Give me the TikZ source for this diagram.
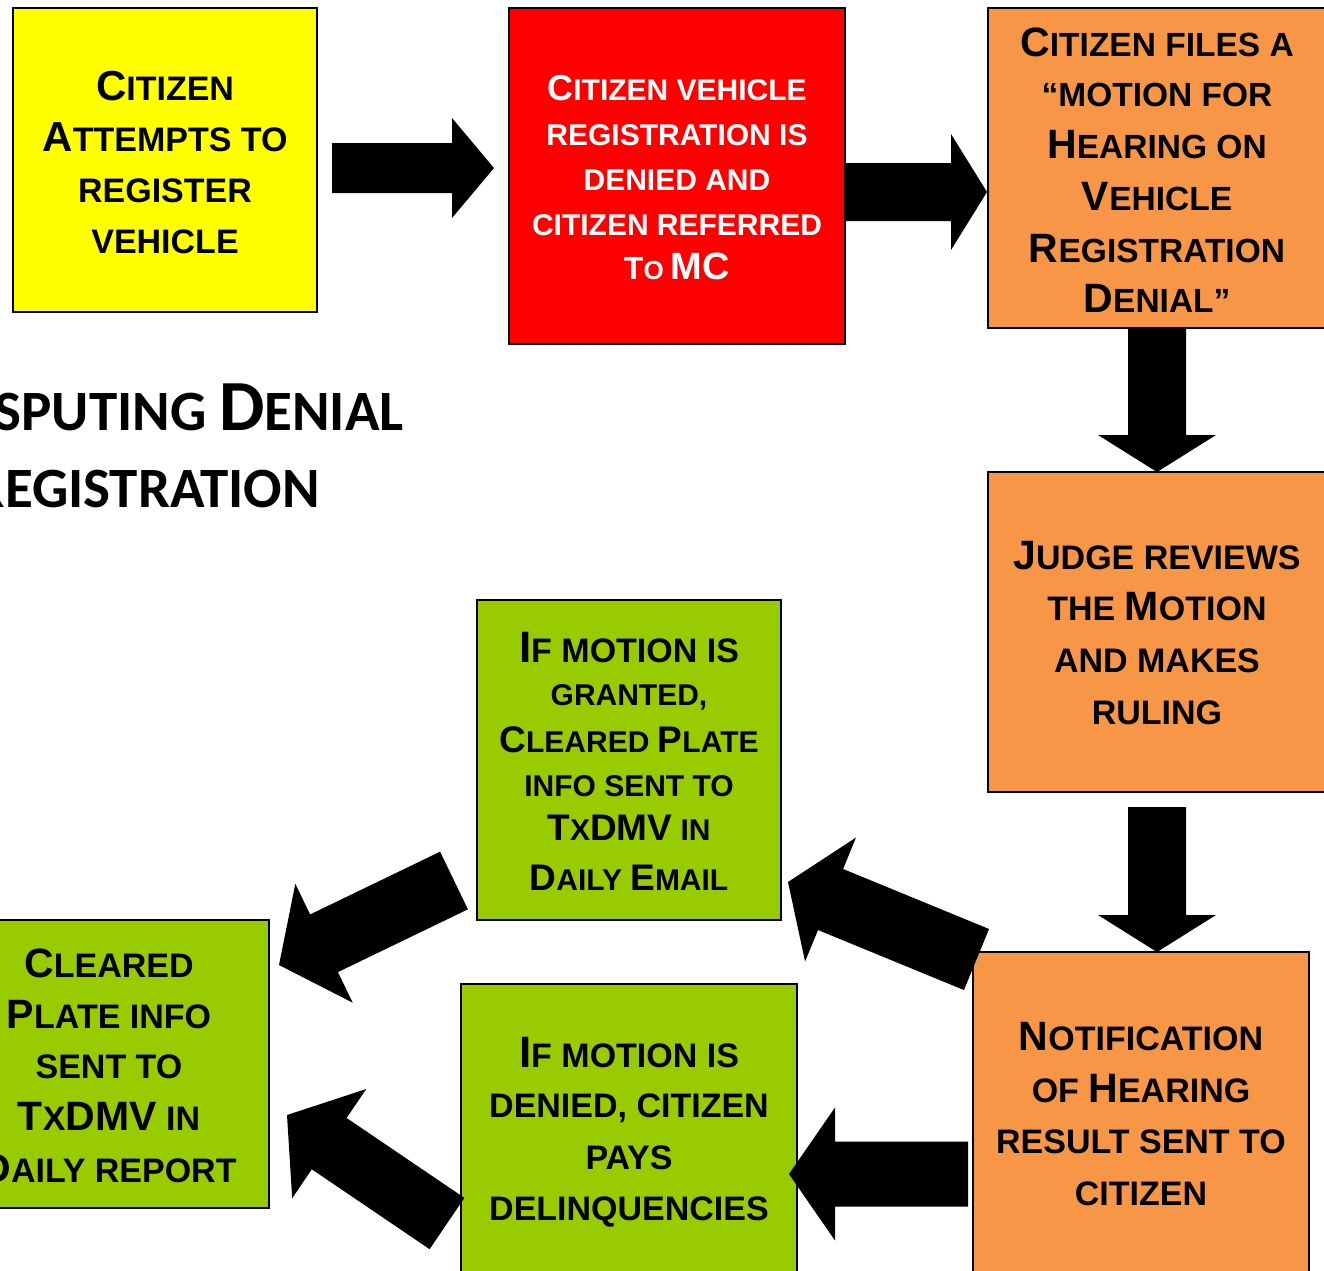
\documentclass[tikz,border=0pt]{standalone}
\usepackage{fontspec}
\setmainfont{Liberation Sans}
\newfontfamily\titlefont{Carlito}
\usetikzlibrary{calc}
\definecolor{boxyellow}{HTML}{FFFF00}
\definecolor{boxred}{HTML}{FF0000}
\definecolor{boxorange}{HTML}{F79646}
\definecolor{boxgreen}{HTML}{99CC00}
\newcommand\B[1]{{\fontsize{\bsz}{\bsz}\selectfont #1}}
\newcommand\Fs[2]{{\fontsize{#1}{#1}\selectfont #2}}
% #1 tail, #2 tip, #3 body half width, #4 head half width, #5 head length
\newcommand\blockarrow[5]{%
  \fill[black] ($(#1)!#3!90:(#2)$)
    -- ($($(#2)!#5!(#1)$)!#3!90:(#2)$)
    -- ($($(#2)!#5!(#1)$)!#4!90:(#2)$)
    -- (#2)
    -- ($($(#2)!#5!(#1)$)!#4!-90:(#2)$)
    -- ($($(#2)!#5!(#1)$)!#3!-90:(#2)$)
    -- ($(#1)!#3!-90:(#2)$) -- cycle;}
\tikzset{
  box/.style={draw=black, line width=2.5pt, inner sep=0pt},
  lbl/.style={anchor=base, inner sep=0pt},
  yt/.style={lbl, font={\def\bsz{42}\fontsize{34}{34}\selectfont\bfseries}},
  rt/.style={lbl, text=white, font={\def\bsz{36}\fontsize{30}{30}\selectfont\bfseries}},
  ot/.style={lbl, font={\def\bsz{41}\fontsize{33.5}{33.5}\selectfont\bfseries}},
  jt/.style={lbl, font={\def\bsz{41}\fontsize{34}{34}\selectfont\bfseries}},
  gat/.style={lbl, font={\def\bsz{37}\fontsize{30}{30}\selectfont\bfseries}},
  gbt/.style={lbl, font={\def\bsz{41}\fontsize{34}{34}\selectfont\bfseries}},
  titlet/.style={anchor=base east, inner sep=0pt, font=\titlefont\bfseries},
}
\begin{document}
\begin{tikzpicture}[x=1pt, y=-1pt]
\useasboundingbox (0,0) rectangle (1324,1270);
\clip (0,0) rectangle (1324,1270);
\fill[white] (0,0) rectangle (1324,1270);

% boxes
\node[box, fill=boxyellow, minimum width=304pt, minimum height=304pt] (yellow) at (165,160) {};
\node[box, fill=boxred, minimum width=336pt, minimum height=336pt] (red) at (677,176) {};
\node[box, fill=boxorange, minimum width=338pt, minimum height=320pt] (motion) at (1157,168) {};
\node[box, fill=boxorange, minimum width=338pt, minimum height=320pt] (judge) at (1157,632) {};
\node[box, fill=boxorange, minimum width=336pt, minimum height=326pt] (notify) at (1141,1115) {};
\node[box, fill=boxgreen, minimum width=304pt, minimum height=320pt] (granted) at (629,760) {};
\node[box, fill=boxgreen, minimum width=320pt, minimum height=288pt] (cleared) at (109,1064) {};
\node[box, fill=boxgreen, minimum width=336pt, minimum height=296pt] (denied) at (629,1132) {};

% arrow end points
\coordinate (a1t) at (332,168);    \coordinate (a1h) at (494,168);
\coordinate (a2t) at (846,192);    \coordinate (a2h) at (987,192);
\coordinate (a3t) at (1157,328);   \coordinate (a3h) at (1157,472);
\coordinate (a4t) at (1157,807);   \coordinate (a4h) at (1157,952);
\coordinate (a5t) at (976.5,959.5);\coordinate (a5h) at (788,882);
\coordinate (a6t) at (968,1174);   \coordinate (a6h) at (789,1174);
\coordinate (a7t) at (454,880.5);  \coordinate (a7h) at (279,965);
\coordinate (a8t) at (447,1223.5); \coordinate (a8h) at (287,1115);

\blockarrow{a1t}{a1h}{25pt}{50pt}{42pt}
\blockarrow{a2t}{a2h}{29pt}{58pt}{36pt}
\blockarrow{a3t}{a3h}{29pt}{59pt}{37pt}
\blockarrow{a4t}{a4h}{29pt}{59pt}{37pt}
\blockarrow{a5t}{a5h}{33pt}{67pt}{46pt}
\blockarrow{a6t}{a6h}{32.5pt}{66.5pt}{46pt}
\blockarrow{a7t}{a7h}{32pt}{66pt}{50pt}
\blockarrow{a8t}{a8h}{31pt}{66pt}{51pt}

% title (cut off at the left edge, as in the picture)
\node[titlet] (title1) at (404,430) {\Fs{57}{SPUTING }\Fs{72}{D}\Fs{57}{ENIAL}};
\node[titlet] (title2) at (320,507) {\Fs{72}{R}\Fs{57}{EGISTRATION}};

% yellow
\node[yt] (y1) at (165,100) {\B{C}ITIZEN};
\node[yt] (y2) at (165,151) {\B{A}TTEMPTS TO};
\node[yt] (y3) at (165,202) {REGISTER};
\node[yt] (y4) at (165,253) {VEHICLE};

% red
\node[rt] (r1) at (677,100) {\B{C}ITIZEN VEHICLE};
\node[rt] (r2) at (677,145) {REGISTRATION IS};
\node[rt] (r3) at (677,190) {DENIED AND};
\node[rt] (r4) at (677,235) {CITIZEN REFERRED};
\node[rt] (r5) at (677,279) {\Fs{32}{T}\Fs{26}{O }\Fs{38}{MC}};

% motion
\node[ot] (m1) at (1157,56) {\B{C}ITIZEN FILES A};
\node[ot] (m2) at (1157,106) {“MOTION FOR};
\node[ot] (m3) at (1157,158) {\B{H}EARING ON};
\node[ot] (m4) at (1157,210) {\B{V}EHICLE};
\node[ot] (m5) at (1157,262) {\B{R}EGISTRATION};
\node[ot] (m6) at (1157,312) {\B{D}ENIAL”};

% judge
\node[jt] (j1) at (1157,569) {\B{J}UDGE REVIEWS};
\node[jt] (j2) at (1157,620) {THE \B{M}OTION};
\node[jt] (j3) at (1157,672) {AND MAKES};
\node[jt] (j4) at (1157,724) {RULING};

% granted
\node[gat] (g1) at (629,662) {\Fs{44}{I}\Fs{34}{F MOTION IS}};
\node[gat] (g2) at (629,705) {GRANTED,};
\node[gat] (g3) at (629,752) {\B{C}LEARED \B{P}LATE};
\node[gat] (g4) at (629,796) {INFO SENT TO};
\node[gat] (g5) at (629,840) {\B{T}X\B{DMV} IN};
\node[gat] (g6) at (629,890) {\B{D}AILY \B{E}MAIL};

% cleared
\node[gbt] (c1) at (109,977) {\B{C}LEARED};
\node[gbt] (c2) at (109,1028) {\B{P}LATE INFO};
\node[gbt] (c3) at (109,1078) {SENT TO};
\node[gbt] (c4) at (109,1130) {\B{T}X\B{DMV} IN};
\node[gbt] (c5) at (109,1182) {\B{D}AILY REPORT};

% denied
\node[gbt] (d1) at (629,1067) {\Fs{44}{I}F MOTION IS};
\node[gbt] (d2) at (629,1117) {DENIED, CITIZEN};
\node[gbt] (d3) at (629,1169) {PAYS};
\node[gbt] (d4) at (629,1220) {DELINQUENCIES};

% notification
\node[gbt] (n1) at (1141,1050) {\B{N}OTIFICATION};
\node[gbt] (n2) at (1141,1102) {OF \B{H}EARING};
\node[gbt] (n3) at (1141,1153) {RESULT SENT TO};
\node[gbt] (n4) at (1141,1205) {CITIZEN};
\end{tikzpicture}
\end{document}
